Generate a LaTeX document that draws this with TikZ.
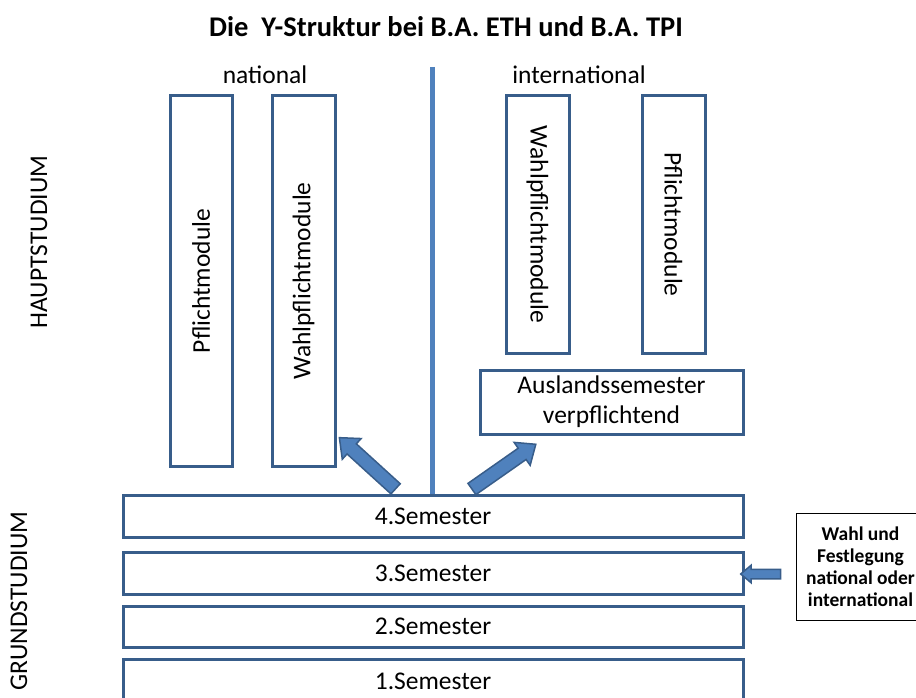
\documentclass[tikz,border=0pt]{standalone}
\usepackage{fontspec}
\setmainfont{Carlito}
\usetikzlibrary{shapes.arrows}
\definecolor{boxline}{RGB}{56,93,138}
\definecolor{boxfill}{RGB}{79,129,189}
\tikzset{
  txt/.style={font=\fontsize{25.5}{30}\selectfont},
  box/.style={draw=boxline, line width=3pt, rectangle, inner sep=0pt, txt},
  blockarrow/.style={single arrow, draw=boxline, fill=boxfill, line width=1.5pt,
    inner sep=6pt, single arrow head extend=7pt, single arrow tip angle=80,
    single arrow head indent=0pt}
}
\begin{document}
\begin{tikzpicture}[x=1pt, y=-1pt]
      \clip (0,0) rectangle (916,698);
      \draw
        (446,27) node (title){\fontsize{28.5}{32}\selectfont\bfseries Die\ \ Y-Struktur bei B.A. ETH und B.A. TPI}
        (265,75) node[txt] (nat){national}
        (579,75) node[txt] (int){international}
        (39,242) node[txt, rotate=90] (haupt){HAUPTSTUDIUM}
        (19,601) node[txt, rotate=90] (grund){GRUNDSTUDIUM};
      \draw
        (201,281) node[box, rotate=90, minimum width=370pt, minimum height=62pt] (pn){Pflichtmodule}
        (303.5,281) node[box, rotate=90, minimum width=370pt, minimum height=63pt] (wn){Wahlpflichtmodule}
        (537.5,224.5) node[box, rotate=-90, minimum width=257pt, minimum height=63pt] (wi){Wahlpflichtmodule}
        (673.5,224.5) node[box, rotate=-90, minimum width=257pt, minimum height=63pt] (pi){Pflichtmodule}
        (611.5,402) node[box, minimum width=263pt, minimum height=64pt, align=center] (ausland){Auslandssemester\\verpflichtend};
      \draw
        (433,516) node[box, minimum width=620pt, minimum height=42pt] (s4){4.Semester}
        (433,573) node[box, minimum width=620pt, minimum height=42pt] (s3){3.Semester}
        (433,626.5) node[box, minimum width=620pt, minimum height=41pt] (s2){2.Semester}
        (433,681) node[box, minimum width=620pt, minimum height=44pt] (s1){1.Semester};
      \draw (796,566.5) node[anchor=west, draw, line width=1pt, minimum width=128pt,
          minimum height=107pt, align=center, font=\fontsize{19.5}{22}\selectfont\bfseries]
          (wahl){Wahl und\\Festlegung\\national oder\\international};
      \coordinate (top) at (432,67);
      \coordinate (bottom) at (432,494);
      \draw[boxfill, line width=5pt] (top) -- (bottom);
      \begin{scope}
        \node[blockarrow, minimum height=76pt, minimum width=28pt, rotate=137.7] (al) at (370.5,466) {};
        \node[blockarrow, minimum height=78pt, minimum width=28pt, rotate=35] (ar) at (500.5,469) {};
        \node[blockarrow, inner sep=4pt, single arrow head extend=4pt, minimum height=40pt,
          minimum width=16pt, rotate=180] (aw) at (763.5,574) {};
      \end{scope}
    \end{tikzpicture}
\end{document}
